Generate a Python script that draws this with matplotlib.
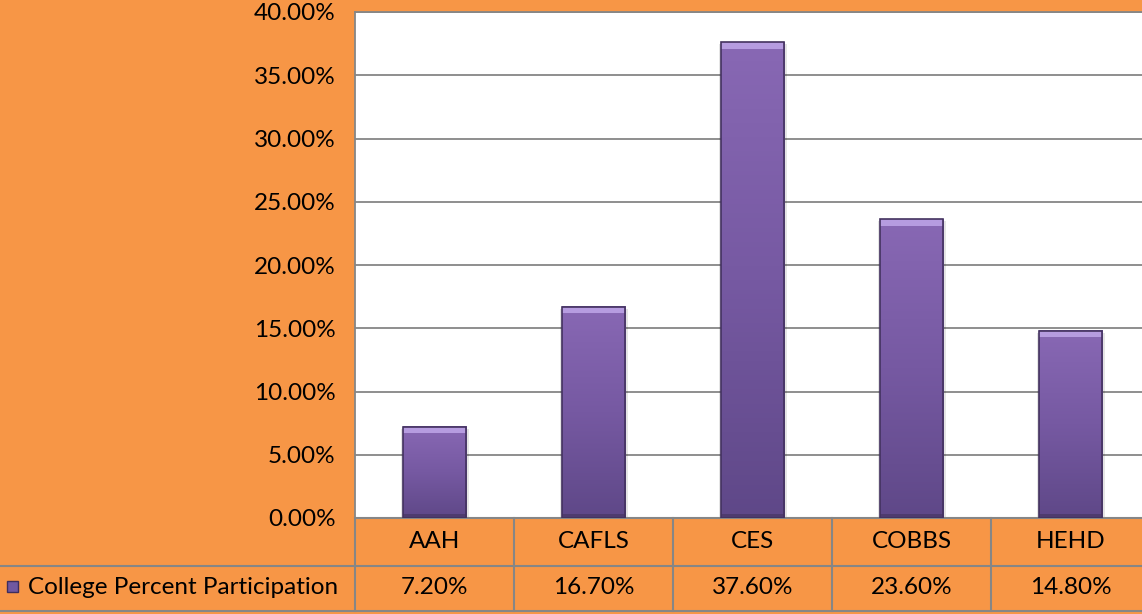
import numpy as np
import matplotlib.pyplot as plt
from matplotlib.lines import Line2D
from matplotlib.patches import Rectangle

colleges = ["AAH", "CAFLS", "CES", "COBBS", "HEHD"]
participation = [7.20, 16.70, 37.60, 23.60, 14.80]
value_labels = ["7.20%", "16.70%", "37.60%", "23.60%", "14.80%"]
series_name = "College Percent Participation"
yticks = [0, 5, 10, 15, 20, 25, 30, 35, 40]

orange = "#F79646"
grid = "#868686"
plt.rcParams['font.family'] = ['Lato', 'DejaVu Sans']
fs = 17.5

W, H = 1142, 614
aw = 795  # axes width in px, runs past the right edge like the original
fig = plt.figure(figsize=(W / 100, H / 100), dpi=100, facecolor=orange)
ax = fig.add_axes([355 / W, 1 - 518 / H, aw / W, (518 - 12) / H])
ax.set_facecolor("white")
ax.set_yticks(yticks)
ax.set_yticklabels(["%.2f%%" % t for t in yticks], fontsize=fs)
ax.tick_params(axis="y", length=0, pad=14)
ax.set_xticks([])
for t in yticks:
    ax.axhline(t, color=grid, lw=1.3, zorder=1)
for side in ["left", "top", "right", "bottom"]:
    ax.spines[side].set_color(grid)
    ax.spines[side].set_linewidth(1.3)

# bars with a vertical gradient and a light bevel on top
grad = np.linspace(0, 1, 100).reshape(-1, 1)
cmap = plt.matplotlib.colors.LinearSegmentedColormap.from_list(
    "p", ["#5f4888", "#7659a2", "#8868b4"])
bw = 0.40
for i, v in enumerate(participation):
    x0 = i + 0.5 - bw / 2
    # soft shadow
    ax.add_patch(Rectangle((x0 - 0.008, 0), bw + 0.022, v - 0.15,
                           color="#000000", alpha=0.10, lw=0, zorder=2))
    ax.imshow(grad, extent=(x0, x0 + bw, 0, v), origin="lower",
              cmap=cmap, aspect="auto", zorder=3)
    ax.add_patch(Rectangle((x0, v - 0.5), bw, 0.5,
                           color="#b69ce0", lw=0, zorder=4))
    ax.add_patch(Rectangle((x0, 0), bw, 0.35,
                           color="#4e3b6e", lw=0, zorder=4))
    ax.add_patch(Rectangle((x0, 0), bw, v, fill=False,
                           ec="#43325f", lw=1.2, zorder=5))
ax.set_xlim(0, len(colleges))
ax.set_ylim(0, 40)

# data table below the axes
ah = 518 - 12
def ya(py):
    return (518 - py) / ah

n = len(colleges)
lines = [
    ((0, 1), (ya(518), ya(518))),
    ((-355 / aw, 1), (ya(566), ya(566))),
    ((-355 / aw, 1), (ya(611), ya(611))),
]
for k in range(n):
    lines.append(((k / n, k / n), (ya(518), ya(611))))
for xs, ys in lines:
    ax.add_line(Line2D(xs, ys, transform=ax.transAxes, color=grid,
                       lw=1.5, clip_on=False))

for i, (c, lab) in enumerate(zip(colleges, value_labels)):
    xc = (i + 0.5) / n
    ax.text(xc, ya(542), c, transform=ax.transAxes, ha="center",
            va="center", fontsize=fs, clip_on=False)
    ax.text(xc, ya(588), lab, transform=ax.transAxes, ha="center",
            va="center", fontsize=fs, clip_on=False)

fig.patches.append(Rectangle((7 / W, 1 - 592 / H), 11 / W, 11 / H,
                             transform=fig.transFigure, fc="#7058a0",
                             ec="#3e2e5c", lw=1))
fig.text(28 / W, 1 - 588 / H, series_name, ha="left", va="center",
         fontsize=fs)

fig.savefig("out.png", dpi=100, facecolor=orange)
